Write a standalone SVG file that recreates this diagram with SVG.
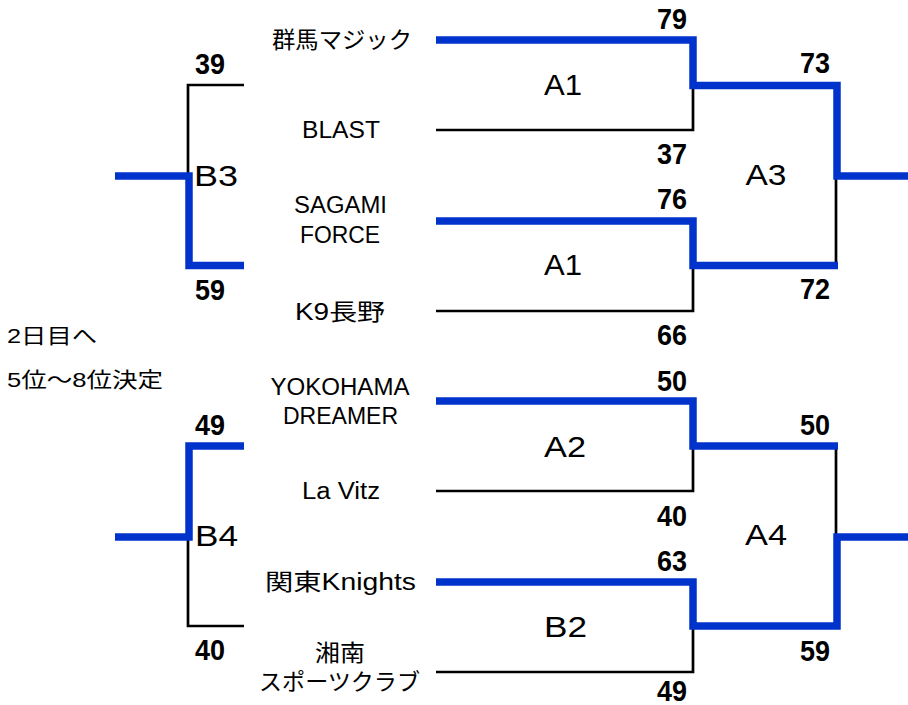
<svg xmlns="http://www.w3.org/2000/svg" width="908" height="705" viewBox="0 0 908 705">
<style>
text{font-family:"Liberation Sans","Noto Sans CJK JP",sans-serif;fill:#000}
.team{font-size:23px;text-anchor:middle}
.note{font-size:21px}
.match{font-size:29px;text-anchor:middle}
.score{font-size:29px;font-weight:bold;text-anchor:middle}
.win{fill:none;stroke:#0033CC;stroke-width:7.5;stroke-linejoin:miter}
.lose{fill:none;stroke:#000;stroke-width:2.7;stroke-linejoin:miter}
</style>
<rect width="908" height="705" fill="#fff"/>
<g id="connectors">
<polyline class="lose" points="436,130 693,130 693,86"/>
<polyline class="lose" points="436,311 693,311 693,266"/>
<polyline class="lose" points="836,176 836,266"/>
<polyline class="lose" points="436,491 693,491 693,446"/>
<polyline class="lose" points="436,672 693,672 693,626"/>
<polyline class="lose" points="836,446 836,537"/>
<polyline class="lose" points="244,85 188,85 188,176"/>
<polyline class="lose" points="188,537 188,626 244,626"/>
<polyline class="win" points="436,40 693,40 693,85.5 837,85.5 837,176 908,176"/>
<polyline class="win" points="436,221 693,221 693,265.5 838,265.5"/>
<polyline class="win" points="436,401 693,401 693,446 838,446"/>
<polyline class="win" points="436,582 693,582 693,626 837,626 837,537 908,537"/>
<polyline class="win" points="115,176 189,176 189,265.5 244,265.5"/>
<polyline class="win" points="244,446 189,446 189,537 115,537"/>
</g>
<g id="team-gunma"><text class="team" x="342" y="48" textLength="140" lengthAdjust="spacingAndGlyphs">群馬マジック</text></g>
<g id="team-blast"><text class="team" x="341" y="138" textLength="78" lengthAdjust="spacingAndGlyphs">BLAST</text></g>
<g id="team-sagami"><text class="team" x="340.5" y="213" textLength="93" lengthAdjust="spacingAndGlyphs">SAGAMI</text><text class="team" x="340" y="243" textLength="80" lengthAdjust="spacingAndGlyphs">FORCE</text></g>
<g id="team-k9"><text class="team" x="340" y="320" textLength="90" lengthAdjust="spacingAndGlyphs">K9長野</text></g>
<g id="team-yokohama"><text class="team" x="340" y="395" textLength="139" lengthAdjust="spacingAndGlyphs">YOKOHAMA</text><text class="team" x="340.5" y="424" textLength="115" lengthAdjust="spacingAndGlyphs">DREAMER</text></g>
<g id="team-lavitz"><text class="team" x="341" y="499" textLength="78" lengthAdjust="spacingAndGlyphs">La Vitz</text></g>
<g id="team-kanto"><text class="team" x="340.5" y="590" textLength="151" lengthAdjust="spacingAndGlyphs">関東Knights</text></g>
<g id="team-shonan"><text class="team" x="340" y="661" textLength="50" lengthAdjust="spacingAndGlyphs">湘南</text><text class="team" x="339.5" y="690" textLength="161" lengthAdjust="spacingAndGlyphs">スポーツクラブ</text></g>
<g id="note"><text class="note" x="7" y="343" textLength="90" lengthAdjust="spacingAndGlyphs">2日目へ</text><text class="note" x="7" y="387" textLength="156" lengthAdjust="spacingAndGlyphs">5位～8位決定</text></g>
<g id="match-a1-top"><text class="match" x="563" y="95" textLength="38" lengthAdjust="spacingAndGlyphs">A1</text><text class="score" x="672" y="29" textLength="30" lengthAdjust="spacingAndGlyphs">79</text><text class="score" x="672" y="164" textLength="30" lengthAdjust="spacingAndGlyphs">37</text></g>
<g id="match-a1-bottom"><text class="match" x="563" y="275" textLength="38" lengthAdjust="spacingAndGlyphs">A1</text><text class="score" x="672" y="209" textLength="30" lengthAdjust="spacingAndGlyphs">76</text><text class="score" x="672" y="345" textLength="30" lengthAdjust="spacingAndGlyphs">66</text></g>
<g id="match-a3"><text class="match" x="766" y="185" textLength="41" lengthAdjust="spacingAndGlyphs">A3</text><text class="score" x="815" y="73" textLength="30" lengthAdjust="spacingAndGlyphs">73</text><text class="score" x="815" y="299" textLength="30" lengthAdjust="spacingAndGlyphs">72</text></g>
<g id="match-b3"><text class="match" x="216" y="186" textLength="44" lengthAdjust="spacingAndGlyphs">B3</text><text class="score" x="210" y="74" textLength="30" lengthAdjust="spacingAndGlyphs">39</text><text class="score" x="210" y="300" textLength="30" lengthAdjust="spacingAndGlyphs">59</text></g>
<g id="match-a2"><text class="match" x="565" y="457" textLength="42" lengthAdjust="spacingAndGlyphs">A2</text><text class="score" x="672" y="391" textLength="30" lengthAdjust="spacingAndGlyphs">50</text><text class="score" x="672" y="526" textLength="30" lengthAdjust="spacingAndGlyphs">40</text></g>
<g id="match-b2"><text class="match" x="565.5" y="637" textLength="43" lengthAdjust="spacingAndGlyphs">B2</text><text class="score" x="672" y="571" textLength="30" lengthAdjust="spacingAndGlyphs">63</text><text class="score" x="672" y="701" textLength="30" lengthAdjust="spacingAndGlyphs">49</text></g>
<g id="match-a4"><text class="match" x="766" y="545" textLength="42" lengthAdjust="spacingAndGlyphs">A4</text><text class="score" x="815" y="435" textLength="30" lengthAdjust="spacingAndGlyphs">50</text><text class="score" x="815" y="661" textLength="30" lengthAdjust="spacingAndGlyphs">59</text></g>
<g id="match-b4"><text class="match" x="216.5" y="546" textLength="43" lengthAdjust="spacingAndGlyphs">B4</text><text class="score" x="210" y="435" textLength="30" lengthAdjust="spacingAndGlyphs">49</text><text class="score" x="210" y="660" textLength="30" lengthAdjust="spacingAndGlyphs">40</text></g>
</svg>
